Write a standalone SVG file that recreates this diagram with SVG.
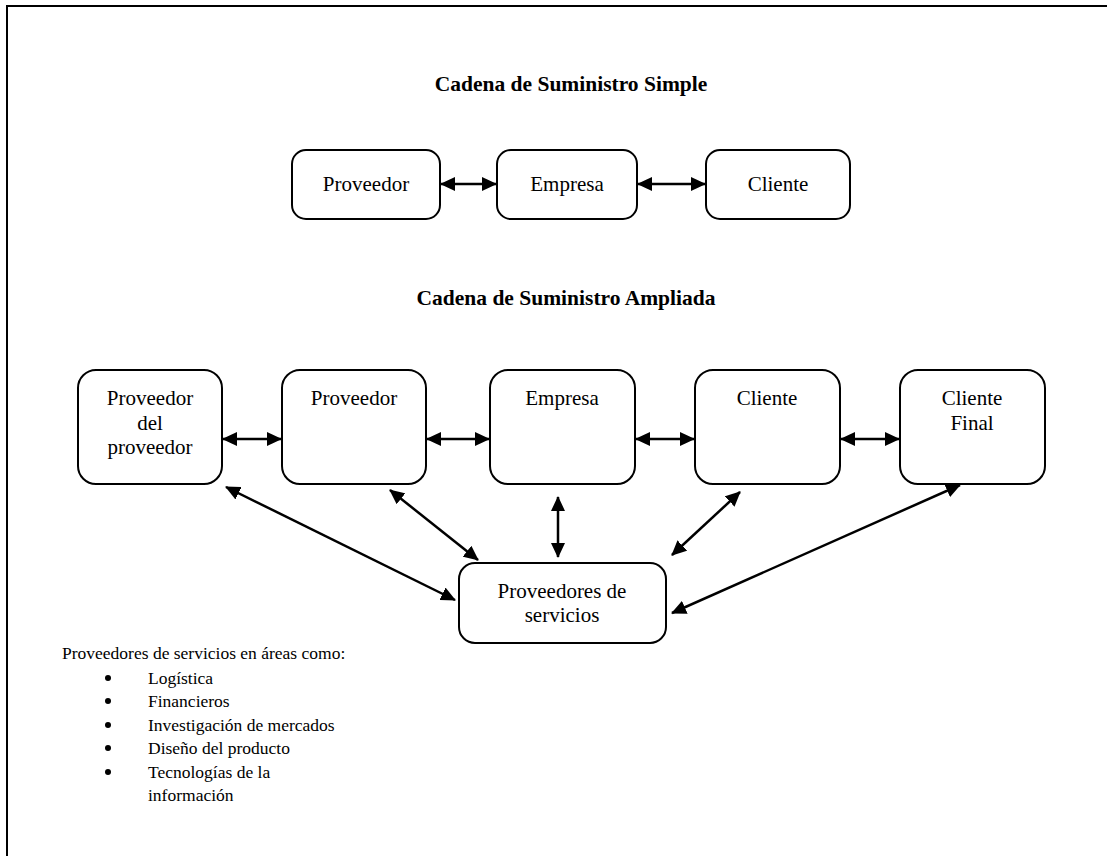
<svg xmlns="http://www.w3.org/2000/svg" width="1107" height="856" viewBox="0 0 1107 856">
<defs>
<style>
text{font-family:"Liberation Serif","Times New Roman",serif;font-size:21px;fill:#000}
.t{font-weight:bold;text-anchor:middle;font-size:21.5px}
.c{text-anchor:middle}
.l{font-size:17.5px}
.box{fill:#fff;stroke:#000;stroke-width:2}
.ar{stroke:#000;stroke-width:2.5;fill:none;marker-start:url(#ah);marker-end:url(#ah)}
</style>
<marker id="ah" viewBox="0 0 15 14" refX="14" refY="7" markerWidth="15" markerHeight="14" markerUnits="userSpaceOnUse" orient="auto-start-reverse">
<path d="M0,0 L15,7 L0,14 Z" fill="#000"/>
</marker>
</defs>
<rect width="1107" height="856" fill="#fff"/>
<rect x="7" y="6" width="1200" height="1000" fill="none" stroke="#000" stroke-width="2"/>

<text class="t" x="571" y="91">Cadena de Suministro Simple</text>
<text class="t" x="566" y="305">Cadena de Suministro Ampliada</text>

<g id="s-proveedor"><rect class="box" x="292" y="150" width="148" height="69" rx="14"/><text class="c" x="366" y="191">Proveedor</text></g>
<g id="s-empresa"><rect class="box" x="497" y="150" width="140" height="69" rx="14"/><text class="c" x="567" y="191">Empresa</text></g>
<g id="s-cliente"><rect class="box" x="706" y="150" width="144" height="69" rx="14"/><text class="c" x="778" y="191">Cliente</text></g>

<g id="e-provprov"><rect class="box" x="78" y="370" width="144" height="114" rx="18"/><text class="c" x="150" y="405">Proveedor</text><text class="c" x="150" y="430">del</text><text class="c" x="150" y="454">proveedor</text></g>
<g id="e-proveedor"><rect class="box" x="282" y="370" width="144" height="114" rx="18"/><text class="c" x="354" y="405">Proveedor</text></g>
<g id="e-empresa"><rect class="box" x="490" y="370" width="145" height="114" rx="18"/><text class="c" x="562" y="405">Empresa</text></g>
<g id="e-cliente"><rect class="box" x="695" y="370" width="145" height="114" rx="18"/><text class="c" x="767" y="405">Cliente</text></g>
<g id="e-clientefinal"><rect class="box" x="900" y="370" width="145" height="114" rx="18"/><text class="c" x="972" y="405">Cliente</text><text class="c" x="972" y="430">Final</text></g>

<g id="servicios"><rect class="box" x="459" y="563" width="207" height="80" rx="16"/><text class="c" x="562" y="598">Proveedores de</text><text class="c" x="562" y="622">servicios</text></g>

<g id="connectors">
<line class="ar" x1="441" y1="184" x2="496" y2="184"/>
<line class="ar" x1="638" y1="184" x2="705" y2="184"/>
<line class="ar" x1="223" y1="439" x2="281" y2="439"/>
<line class="ar" x1="427" y1="439" x2="489" y2="439"/>
<line class="ar" x1="636" y1="439" x2="694" y2="439"/>
<line class="ar" x1="841" y1="439" x2="899" y2="439"/>
<line class="ar" x1="226" y1="487" x2="455" y2="600"/>
<line class="ar" x1="390" y1="490" x2="478" y2="560"/>
<line class="ar" x1="558" y1="497" x2="558" y2="557"/>
<line class="ar" x1="740" y1="492" x2="672" y2="555"/>
<line class="ar" x1="960" y1="485" x2="672" y2="613"/>
</g>

<g id="lista">
<text class="l" x="62" y="659">Proveedores de servicios en áreas como:</text>
<circle cx="108" cy="678" r="3"/><text class="l" x="148" y="684">Logística</text>
<circle cx="108" cy="701" r="3"/><text class="l" x="148" y="707">Financieros</text>
<circle cx="108" cy="725" r="3"/><text class="l" x="148" y="731">Investigación de mercados</text>
<circle cx="108" cy="748" r="3"/><text class="l" x="148" y="754">Diseño del producto</text>
<circle cx="108" cy="772" r="3"/><text class="l" x="148" y="778">Tecnologías de la</text>
<text class="l" x="148" y="801">información</text>
</g>
</svg>
